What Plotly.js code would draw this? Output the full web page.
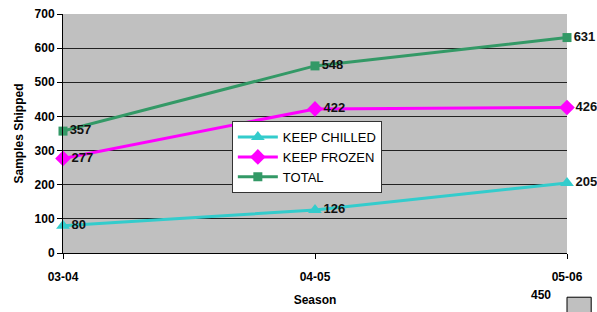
<!DOCTYPE html>
<html><head><meta charset="utf-8">
<script src="https://cdn.plot.ly/plotly-3.0.1.min.js"></script>
<style>html,body{margin:0;padding:0;background:#fff;}#c{width:597px;height:312px;}</style>
</head><body><div id="c"></div>
<script>
const seasons = ["03-04", "04-05", "05-06"];
const keepChilled = [80, 126, 205];
const keepFrozen = [277, 422, 426];
const total = [357, 548, 631];
const yTicks = [0, 100, 200, 300, 400, 500, 600, 700];

const xIdx = seasons.map((s, i) => i);
function series(name, y, color, symbol, size) {
  return {
    x: xIdx, y: y, name: name, type: 'scatter', mode: 'lines+markers+text',
    line: {color: color, width: 3},
    marker: {color: color, symbol: symbol, size: size},
    text: y.map(String), textposition: 'middle right',
    textfont: {family: 'Liberation Sans, Arial', size: 13, color: '#111', weight: 'bold'},
    cliponaxis: false
  };
}
const data = [
  series('KEEP CHILLED', keepChilled, '#33cccc', 'triangle-up', 12),
  series('KEEP FROZEN', keepFrozen, '#ff00ff', 'diamond', 12),
  series('TOTAL', total, '#339966', 'square', 9)
];
const layout = {
  width: 597, height: 312,
  margin: {l: 63, r: 30, t: 14, b: 59},
  paper_bgcolor: '#ffffff', plot_bgcolor: '#c0c0c0',
  font: {family: 'Liberation Sans, Arial', size: 12, color: '#000'},
  showlegend: true,
  legend: {x: 0.335, y: 0.552, xanchor: 'left', yanchor: 'top', bgcolor: '#ffffff',
    bordercolor: '#333', borderwidth: 1, font: {size: 13, family: 'Liberation Sans, Arial'},
    tracegroupgap: 0, itemwidth: 40},
  xaxis: {
    range: [0, 2], tickvals: xIdx, ticktext: seasons, showgrid: false, zeroline: false,
    showline: true, linecolor: '#000', linewidth: 1, ticks: 'outside', ticklen: 5, tickcolor: '#000',
    tickfont: {size: 12, weight: 'bold'}, ticklabelstandoff: 8,
    title: {text: 'Season', font: {size: 12, weight: 'bold'}, standoff: 12}
  },
  yaxis: {
    range: [0, 700], tickvals: yTicks, showgrid: true, gridcolor: '#222', gridwidth: 1,
    zeroline: false, showline: true, linecolor: '#000', linewidth: 1,
    ticks: 'outside', ticklen: 5, tickcolor: '#000', tickfont: {size: 12, weight: 'bold'},
    title: {text: 'Samples Shipped', font: {size: 12, weight: 'bold'}, standoff: 8}
  },
  annotations: [
    {xref: 'paper', yref: 'paper', x: 0.972, y: -0.176, xanchor: 'right', yanchor: 'middle',
     text: '450', showarrow: false, font: {size: 12, weight: 'bold'}}
  ],
  shapes: [
    {type: 'rect', xref: 'paper', yref: 'paper', x0: 1.0, x1: 1.048, y0: -0.185, y1: -0.27,
     fillcolor: '#c0c0c0', line: {color: '#000', width: 1}}
  ]
};
Plotly.newPlot('c', data, layout, {displayModeBar: false});
</script></body></html>
